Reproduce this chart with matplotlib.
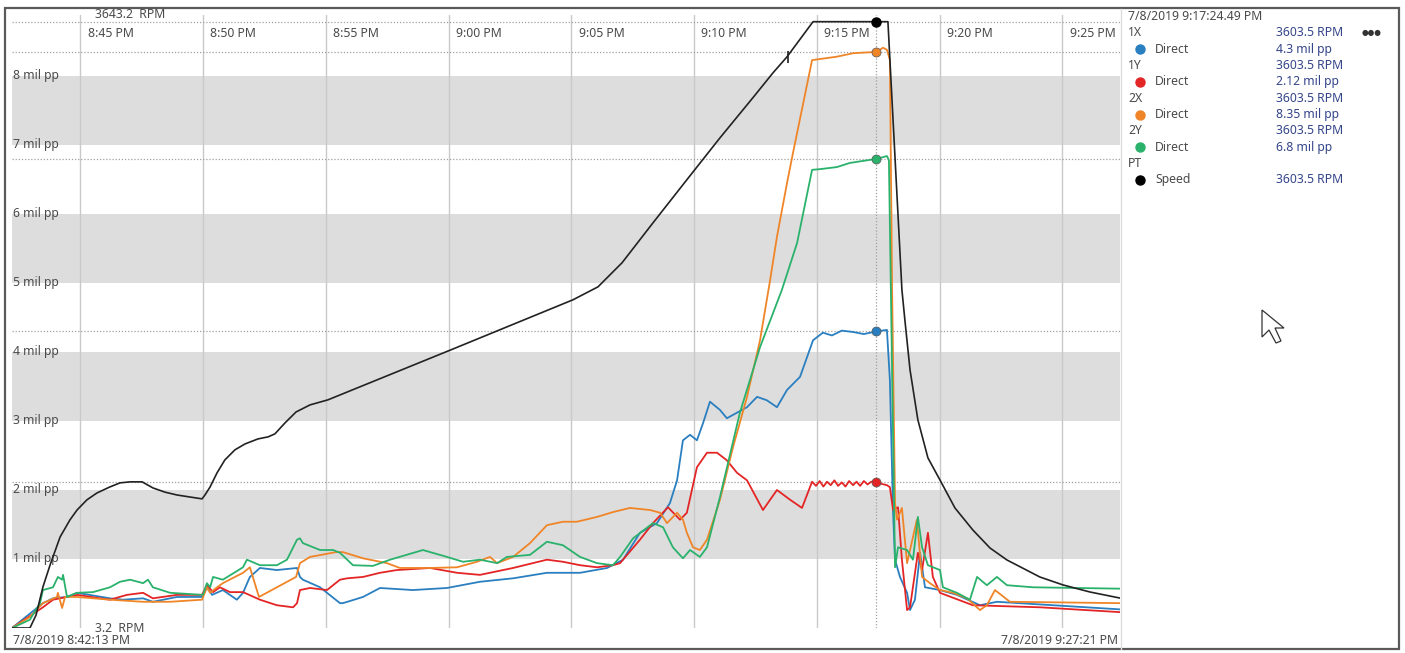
import matplotlib
matplotlib.use("Agg")
import matplotlib.pyplot as plt
from matplotlib.patches import Rectangle, Polygon
from matplotlib.lines import Line2D

plt.rcParams['font.family'] = ['Noto Sans', 'DejaVu Sans']

# ---------------- data ----------------
# time = minutes after 8:42:13 PM
start_label = "7/8/2019 8:42:13 PM"
end_label = "7/8/2019 9:27:21 PM"
cursor_label = "7/8/2019 9:17:24.49 PM"
t_start = 20 * 60 + 42 + 13 / 60
t_end = 21 * 60 + 27 + 21 / 60
t_cursor = 21 * 60 + 17 + 24.49 / 60

tick_labels = ["8:45 PM", "8:50 PM", "8:55 PM", "9:00 PM", "9:05 PM",
               "9:10 PM", "9:15 PM", "9:20 PM", "9:25 PM"]

band_levels = [1, 3, 5, 7]            # grey bands  (n .. n+1 mil pp)
ylabel_levels = [1, 2, 3, 4, 5, 6, 7, 8]

speed_min = 3.2
speed_max = 3643.2

# 1X direct (blue), mil pp
t_1x = [0, 1.26, 1.67, 2.24, 2.65, 3.99, 4.52, 5.34, 5.74, 6.72, 7.74, 7.94, 8.15, 8.59,
        9.16, 9.41, 9.69, 10.10, 10.79, 11.61, 11.73, 11.85, 12.55, 13.36, 13.48, 14.30,
        14.99, 16.33, 17.72, 19.06, 20.41, 21.79, 23.14, 24.24, 24.89, 25.58, 26.27,
        26.80, 27.09, 27.33, 27.62, 27.90, 28.15, 28.43, 28.84, 29.12, 29.53, 29.94,
        30.35, 30.75, 31.16, 31.57, 32.10, 32.63, 33.03, 33.4, 33.8, 34.26, 34.7, 35.23,
        35.64, 35.76, 35.89, 35.97, 36.17, 36.46, 36.58, 36.78, 36.99, 37.19, 37.80,
        38.49, 39.43, 40.12, 45.13]
v_1x = [0, 0.36, 0.43, 0.45, 0.51, 0.43, 0.41, 0.43, 0.38, 0.45, 0.45, 0.59, 0.48, 0.55,
        0.41, 0.51, 0.74, 0.87, 0.84, 0.87, 0.74, 0.70, 0.59, 0.36, 0.36, 0.45,
        0.58, 0.55, 0.58, 0.67, 0.72, 0.80, 0.80, 0.87, 0.99, 1.38, 1.52,
        1.81, 2.14, 2.72, 2.80, 2.72, 2.97, 3.28, 3.16, 3.04, 3.12, 3.20,
        3.35, 3.30, 3.20, 3.45, 3.64, 4.17, 4.28, 4.24, 4.31, 4.29, 4.26, 4.30,
        4.32, 3.59, 1.67, 0.99, 0.74, 0.51, 0.26, 0.41, 1.09, 0.59, 0.55,
        0.48, 0.33, 0.38, 0.27]

# 1Y direct (red)
t_1y = [0, 1.26, 1.67, 2.65, 3.99, 4.68, 5.34, 5.74, 6.72, 7.74, 7.94, 8.19, 8.47, 8.88,
        9.41, 10.10, 10.79, 11.45, 11.61, 11.73, 12.14, 12.83, 13.36, 13.65, 14.30, 14.99,
        15.68, 17.03, 18.13, 19.06, 20.41, 21.79, 22.44, 23.14, 23.83, 24.48, 24.77,
        25.58, 26.11, 26.72, 27.21, 27.49, 27.90, 28.31, 28.72, 29.12, 29.53, 29.94,
        30.59, 31.16, 31.69, 32.18, 32.59, 32.75, 32.9, 33.05, 33.2, 33.35, 33.5, 33.65,
        33.8, 33.95, 34.1, 34.26, 34.4, 34.55, 34.7, 34.85, 35.0, 35.23, 35.4, 35.64,
        35.76, 35.89, 36.09, 36.25, 36.46, 36.58, 36.90, 37.07, 37.31, 37.51, 37.80,
        39.14, 41.87, 45.13]
v_1y = [0, 0.30, 0.41, 0.48, 0.41, 0.48, 0.51, 0.43, 0.48, 0.48, 0.62, 0.52, 0.59, 0.52,
        0.52, 0.41, 0.33, 0.30, 0.36, 0.55, 0.58, 0.55, 0.70, 0.72, 0.74, 0.80,
        0.84, 0.87, 0.80, 0.77, 0.87, 0.99, 0.96, 0.91, 0.88, 0.91, 0.94,
        1.28, 1.52, 1.75, 1.57, 1.67, 2.33, 2.54, 2.54, 2.43, 2.25, 2.14,
        1.71, 2.00, 1.86, 1.74, 2.12, 2.06, 2.13, 2.05, 2.12, 2.07, 2.14, 2.06,
        2.11, 2.05, 2.13, 2.07, 2.12, 2.06, 2.13, 2.08, 2.12, 2.12, 2.09, 2.07,
        2.04, 1.71, 1.75, 0.99, 0.26, 0.30, 1.09, 0.84, 1.38, 0.74, 0.51,
        0.33, 0.30, 0.23]

# 2X direct (orange)
t_2x = [0, 0.73, 1.26, 1.83, 1.87, 2.04, 2.16, 2.65, 3.99, 5.34, 6.44, 7.74, 7.94, 8.07,
        8.35, 8.59, 9.41, 9.69, 10.06, 10.79, 11.57, 11.73, 12.14, 13.20, 13.48, 14.30,
        15.27, 15.80, 17.03, 18.13, 18.94, 19.47, 19.76, 20.41, 21.10, 21.79, 22.44,
        23.01, 23.83, 24.48, 25.17, 25.99, 26.40, 26.68, 27.09, 27.33, 27.49, 27.74,
        28.02, 28.31, 28.84, 29.37, 29.94, 30.47, 30.88, 31.16, 31.57, 31.81, 32.59,
        33.60, 34.26, 35.23, 35.48, 35.64, 35.76, 35.85, 35.97, 36.05, 36.25, 36.46,
        36.86, 37.07, 37.39, 37.80, 38.33, 38.90, 39.43, 39.71, 40.04, 40.65, 45.13]
v_2x = [0, 0.16, 0.36, 0.45, 0.51, 0.29, 0.45, 0.45, 0.41, 0.38, 0.38, 0.41, 0.59, 0.51,
        0.59, 0.65, 0.80, 0.88, 0.45, 0.59, 0.74, 0.94, 1.03, 1.10, 1.10, 1.01,
        0.94, 0.87, 0.87, 0.88, 0.96, 1.03, 0.94, 1.03, 1.23, 1.49, 1.54,
        1.54, 1.61, 1.68, 1.74, 1.71, 1.67, 1.52, 1.67, 1.57, 1.38, 1.17,
        1.13, 1.28, 1.86, 2.62, 3.35, 4.17, 5.04, 5.67, 6.45, 6.88, 8.23,
        8.28, 8.33, 8.35, 8.41, 8.38, 8.23, 4.90, 1.81, 1.57, 1.74, 0.94,
        1.57, 0.74, 0.65, 0.55, 0.51, 0.43, 0.26, 0.33, 0.55, 0.38, 0.36]

# 2Y direct (green)
t_2y = [0, 0.73, 1.14, 1.26, 1.67, 1.87, 2.04, 2.08, 2.24, 2.65, 3.30, 3.99, 4.40, 4.81,
        5.34, 5.54, 5.74, 6.44, 7.78, 7.94, 8.07, 8.19, 8.59, 9.41, 9.57, 10.10, 10.79,
        11.20, 11.61, 11.73, 11.85, 12.55, 13.08, 13.36, 13.89, 14.70, 15.40, 16.74,
        17.72, 18.37, 19.06, 19.76, 20.16, 21.10, 21.79, 22.44, 23.14, 23.83, 24.48,
        24.77, 25.30, 26.11, 26.52, 26.92, 27.33, 27.62, 28.02, 28.31, 28.84, 29.65,
        30.47, 31.36, 31.98, 32.59, 32.91, 33.60, 34.13, 35.23, 35.64, 35.72, 35.80,
        35.97, 36.09, 36.46, 36.70, 36.90, 37.07, 37.31, 37.80, 37.92, 38.49, 39.02,
        39.31, 39.71, 40.12, 40.53, 41.59, 45.13]
v_2y = [0, 0.12, 0.36, 0.55, 0.59, 0.74, 0.70, 0.77, 0.45, 0.51, 0.52, 0.59, 0.67, 0.70,
        0.65, 0.70, 0.59, 0.51, 0.48, 0.65, 0.59, 0.74, 0.70, 0.88, 0.99, 0.91, 0.91,
        0.99, 1.28, 1.30, 1.23, 1.13, 1.13, 1.09, 0.91, 0.90, 0.99, 1.13,
        1.03, 0.96, 0.99, 0.94, 1.03, 1.06, 1.25, 1.20, 1.03, 0.94, 0.91,
        1.03, 1.30, 1.52, 1.46, 1.17, 1.01, 1.13, 1.03, 1.17, 1.90, 3.12,
        4.07, 4.90, 5.58, 6.64, 6.65, 6.68, 6.74, 6.80, 6.84, 6.78, 4.90,
        0.88, 1.17, 1.13, 0.99, 1.61, 1.17, 0.91, 0.84, 0.59, 0.51, 0.41,
        0.74, 0.62, 0.74, 0.62, 0.59, 0.57]

# PT speed (black), RPM
t_pt = [0, 0.73, 0.98, 1.26, 1.55, 1.96, 2.36, 2.65, 3.05, 3.46, 3.99, 4.40, 4.81, 5.30,
        5.74, 6.23, 6.72, 7.74, 7.86, 8.07, 8.35, 8.67, 9.08, 9.49, 10.02, 10.43, 10.71,
        11.12, 11.57, 12.14, 12.87, 17.88, 22.85, 23.87, 24.85, 26.11,
        27.49, 28.84, 30.18, 31.00, 31.57, 32.63, 35.68, 36.25, 36.37, 36.58, 36.90,
        37.31, 37.80, 38.41, 39.14, 39.84, 40.53, 41.87, 42.81, 43.91, 45.13]
v_pt = [3.2, 3.2, 80, 247, 377, 544, 645, 704, 764, 805, 841, 865, 871, 871,
        835, 810, 793, 770, 793, 841, 924, 1001, 1061, 1096, 1126, 1138, 1156,
        1221, 1286, 1328, 1358, 1655, 1952, 2029, 2172, 2409,
        2665, 2914, 3152, 3300, 3395, 3603.5, 3603.5, 2011, 1833, 1536, 1239,
        1013, 882, 716, 585, 478, 407, 306, 259, 217, 181]
pt_tick = (31.6, 3395)

# cursor read-out
legend_groups = ["1X", "1Y", "2X", "2Y"]
legend_colors = ["#2a7fc0", "#e42526", "#f08528", "#2ab26c"]
legend_values = [4.3, 2.12, 8.35, 6.8]
cursor_speed = 3603.5

# ---------------- figure ----------------
W, H = 1405, 653
fig = plt.figure(figsize=(W / 100, H / 100), dpi=100)


def fx(px):
    return px / W


def fy(py):
    return 1 - py / H


ax = fig.add_axes([fx(12), fy(628), (1120 - 12) / W, (628 - 15) / H])
ax.set_xlim(0, t_end - t_start)
ax.set_ylim(0, 8.884)
ax.set_axis_off()
ax2 = ax.twinx()
ax2.set_ylim(speed_min, speed_max)
ax2.set_axis_off()

txt_col = "#4a4a4a"
grid_col = "#c9c9c9"
dot_col = "#a0a0a0"
fs = 8.8

for b in band_levels:
    ax.axhspan(b, b + 1, color="#dddddd", lw=0, zorder=0)

tick_minutes = []
for lab in tick_labels:
    hh, mm = lab.split()[0].split(":")
    tick_minutes.append((int(hh) + 12) * 60 + int(mm) - t_start)

for tm, lab in zip(tick_minutes, tick_labels):
    ax.axvline(tm, color=grid_col, lw=1, zorder=1)
    ax.text(tm + 0.3, 0.9706, lab, transform=ax.get_xaxis_transform(),
            fontsize=fs, color=txt_col, va="center", ha="left")

for lv in ylabel_levels:
    ax.text(0.001, lv, f"{lv} mil pp", transform=ax.get_yaxis_transform(),
            fontsize=fs, color=txt_col, va="center", ha="left", zorder=6)

# cursor guide lines
tc = t_cursor - t_start
dotted = (0, (1, 1.5))
ax.axvline(tc, color=dot_col, lw=0.9, ls=dotted, zorder=2)
for v in legend_values:
    ax.axhline(v, color=dot_col, lw=0.9, ls=dotted, zorder=2)
ax2.axhline(cursor_speed, color=dot_col, lw=0.9, ls=dotted, zorder=2)

# series
lw = 1.3
ax.plot(t_1x, v_1x, color=legend_colors[0], lw=lw, zorder=3)
ax.plot(t_1y, v_1y, color=legend_colors[1], lw=lw, zorder=3)
ax.plot(t_2x, v_2x, color=legend_colors[2], lw=lw, zorder=3)
ax.plot(t_2y, v_2y, color=legend_colors[3], lw=lw, zorder=3)
ax2.plot(t_pt, v_pt, color="#222222", lw=1.2, zorder=4)
ax2.plot(*pt_tick, marker="|", ms=8, mew=1.2, color="#222222", zorder=4)

for v, c in zip(legend_values, legend_colors):
    ax.plot(tc, v, "o", ms=6.5, color=c, mec="#555555", mew=0.5, zorder=5)
ax2.plot(tc, cursor_speed, "o", ms=6.5, color="black", zorder=5)

ax2.text(0.075, speed_max, f"{speed_max}  RPM", transform=ax2.get_yaxis_transform(),
         fontsize=fs, color=txt_col, va="center", ha="left")
ax2.text(0.075, speed_min, f"{speed_min}  RPM", transform=ax2.get_yaxis_transform(),
         fontsize=fs, color=txt_col, va="center", ha="left")

fig.text(fx(13), fy(641), start_label, fontsize=fs, color=txt_col, va="center", ha="left")
fig.text(fx(1118), fy(641), end_label, fontsize=fs, color=txt_col, va="center", ha="right")

# read-out panel
val_col = "#34458a"
fig.text(fx(1128), fy(17), cursor_label, fontsize=fs, color=txt_col, va="center")
row_y = 33
for g, c, v in zip(legend_groups, legend_colors, legend_values):
    fig.text(fx(1128), fy(row_y), g, fontsize=fs, color=txt_col, va="center")
    fig.text(fx(1276), fy(row_y), f"{cursor_speed} RPM", fontsize=fs, color=val_col, va="center")
    row_y += 16.3
    fig.add_artist(Line2D([fx(1140)], [fy(row_y)], marker="o", ms=6.5, color=c,
                          transform=fig.transFigure))
    fig.text(fx(1155), fy(row_y), "Direct", fontsize=fs, color=txt_col, va="center")
    fig.text(fx(1276), fy(row_y), f"{v} mil pp", fontsize=fs, color=val_col, va="center")
    row_y += 16.3
fig.text(fx(1128), fy(row_y), "PT", fontsize=fs, color=txt_col, va="center")
row_y += 16.3
fig.add_artist(Line2D([fx(1140)], [fy(row_y)], marker="o", ms=6.5, color="black",
                      transform=fig.transFigure))
fig.text(fx(1155), fy(row_y), "Speed", fontsize=fs, color=txt_col, va="center")
fig.text(fx(1276), fy(row_y), f"{cursor_speed} RPM", fontsize=fs, color=val_col, va="center")
fig.text(fx(1362), fy(33), "\u25cf\u25cf\u25cf", fontsize=5.5, color="#333333", va="center",
         family="DejaVu Sans")

# panel separator and outer frame
fig.add_artist(Line2D([fx(1121), fx(1121)], [fy(9), fy(649)], color="#dedede", lw=1,
                      transform=fig.transFigure))
fig.add_artist(Rectangle((fx(5), fy(649)), (1399 - 5) / W, (649 - 8) / H, fill=False,
                         ec="#5a5a5a", lw=1.6, transform=fig.transFigure))

# mouse pointer
arrow = [(1262, 310), (1262, 337), (1269, 330), (1276, 343), (1281, 341),
         (1275, 328), (1284, 328)]
fig.add_artist(Polygon([(fx(x), fy(y)) for x, y in arrow], closed=True, fc="white",
                       ec="#333333", lw=0.9, transform=fig.transFigure))

fig.savefig("out.png", dpi=100)
